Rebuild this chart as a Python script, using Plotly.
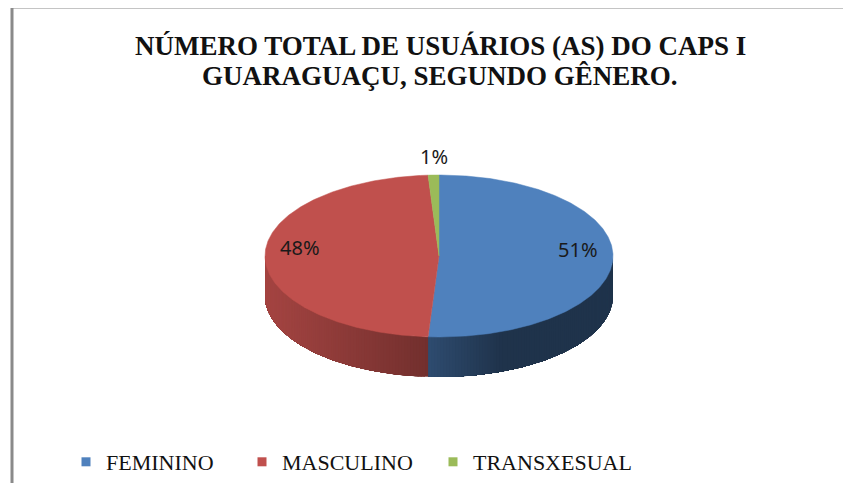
import numpy as np
import plotly.graph_objects as go

# ---- data ----
categories = ["FEMININO", "MASCULINO", "TRANSXESUAL"]
values = [51, 48, 1]
colors = ["#4F81BD", "#C0504D", "#9BBB59"]
title_lines = ["NÚMERO TOTAL DE USUÁRIOS (AS) DO CAPS I", "GUARAGUAÇU, SEGUNDO GÊNERO."]

# ---- geometry / style ----
W, H = 851, 483          # window size
OX, OY = 8, 8            # page body margin
FW, FH = W - OX, H - OY  # figure size
CX, CY, A, B, DEPTH = 439, 256, 174, 81, 40
SERIF = "Liberation Serif, Times New Roman, serif"


def px(x):
    return (x - OX) / FW


def py(y):
    return 1 - (y - OY) / FH


def pt(theta_deg, dy=0.0):
    t = np.radians(theta_deg)
    return CX + A * np.sin(t), CY - B * np.cos(t) + dy


def hex2rgb(h):
    h = h.lstrip("#")
    return [int(h[i:i + 2], 16) for i in (0, 2, 4)]


def shade(hexcol, f):
    r, g, b = hex2rgb(hexcol)
    return "rgb(%d,%d,%d)" % (r * f, g * f, b * f)


def light_factor(x):
    u = (x - (CX - A)) / (2 * A)
    if u < 0.46:
        return 0.86 - 0.56 * u
    if u < 0.68:
        return 0.60 - (0.2 / 0.22) * (u - 0.46)
    return 0.40


total = float(sum(values))
fracs = [v / total for v in values]
starts = np.concatenate([[0], np.cumsum(fracs)[:-1]]) * 360
ends = np.cumsum(fracs) * 360

fig = go.Figure()


def side_poly(t0, t1):
    th = np.linspace(t0, t1, max(3, int((t1 - t0) * 2) + 2))
    xt, yt = pt(th)
    xb, yb = pt(th[::-1], DEPTH)
    return np.concatenate([xt, xb, xt[:1]]), np.concatenate([yt, yb, yt[:1]])


# side walls (front half, 90..270 deg); each strip paints from its start to the
# slice end, later strips overpaint -> smooth gradient without seams
for i, (s, e) in enumerate(zip(starts, ends)):
    lo, hi = max(s, 90), min(e, 270)
    if lo >= hi:
        continue
    n = int(np.ceil((hi - lo) / 1.0))
    edges = np.linspace(lo, hi, n + 1)
    for t0, t1 in zip(edges[:-1], edges[1:]):
        xs, ys = side_poly(t0, hi)
        xm = pt((t0 + t1) / 2)[0]
        col = shade(colors[i], light_factor(xm))
        fig.add_trace(go.Scatter(x=xs, y=ys, mode="lines", fill="toself",
                                 fillcolor=col, line=dict(width=0),
                                 hoverinfo="skip", showlegend=False))

# top faces
for i, (s, e) in enumerate(zip(starts, ends)):
    th = np.linspace(s, e, max(3, int((e - s) * 2)))
    xa, ya = pt(th)
    xs = np.concatenate([[CX], xa, [CX]])
    ys = np.concatenate([[CY], ya, [CY]])
    fig.add_trace(go.Scatter(x=xs, y=ys, mode="lines", fill="toself",
                             fillcolor=colors[i], line=dict(color=colors[i], width=0.5),
                             hoverinfo="skip", showlegend=False))

# data labels
for i, (s, e) in enumerate(zip(starts, ends)):
    mid = (s + e) / 2
    t = np.radians(mid)
    if fracs[i] < 0.05:
        x = CX + A * np.sin(t)
        y = CY - B * np.cos(t) - 19
    else:
        x = CX + 0.8 * A * np.sin(t)
        y = CY - 0.8 * B * np.cos(t) - 9
    fig.add_annotation(x=x, y=y, xref="x", yref="y", text="%d%%" % round(fracs[i] * 100),
                       showarrow=False, font=dict(family="Noto Sans", size=20, color="#1a1a1a"))

# title (two lines, Excel-like tight spacing)
for line, yc in zip(title_lines, [46, 76]):
    fig.add_annotation(x=px(440), y=py(yc), xref="paper", yref="paper", text="<b>%s</b>" % line,
                       showarrow=False, xanchor="center", yanchor="middle",
                       font=dict(family=SERIF, size=27, color="#111"))

# legend entries (one legend each, for Excel-like spacing)
legend_text_x = [106, 282, 473]
for i, cat in enumerate(categories):
    lg = "legend" if i == 0 else "legend%d" % (i + 1)
    fig.add_trace(go.Scatter(x=[None], y=[None], mode="markers", name=cat,
                             marker=dict(symbol="square", size=9, color=colors[i]),
                             legend=lg, hoverinfo="skip"))

legend_common = dict(orientation="h", yanchor="middle", y=py(462), xanchor="left",
                     bgcolor="rgba(0,0,0,0)", borderwidth=0, itemwidth=30,
                     font=dict(family=SERIF, size=22, color="#111"))
layout_legends = {}
for i in range(len(categories)):
    key = "legend" if i == 0 else "legend%d" % (i + 1)
    layout_legends[key] = dict(legend_common, x=px(legend_text_x[i] - 40))

fig.update_layout(
    width=FW, height=FH,
    margin=dict(l=0, r=0, t=0, b=0),
    paper_bgcolor="white", plot_bgcolor="white",
    xaxis=dict(range=[OX, W], visible=False, fixedrange=True),
    yaxis=dict(range=[H, OY], visible=False, fixedrange=True),
    showlegend=True,
    shapes=[
        dict(type="line", xref="paper", yref="paper", x0=px(11), x1=1, y0=py(7), y1=py(7),
             line=dict(color="#8a8a8a", width=3)),
        dict(type="line", xref="paper", yref="paper", x0=px(12), x1=px(12), y0=0, y1=py(7),
             line=dict(color="#8a8a8a", width=3)),
    ],
    **layout_legends,
)

fig.write_html("out.html")
